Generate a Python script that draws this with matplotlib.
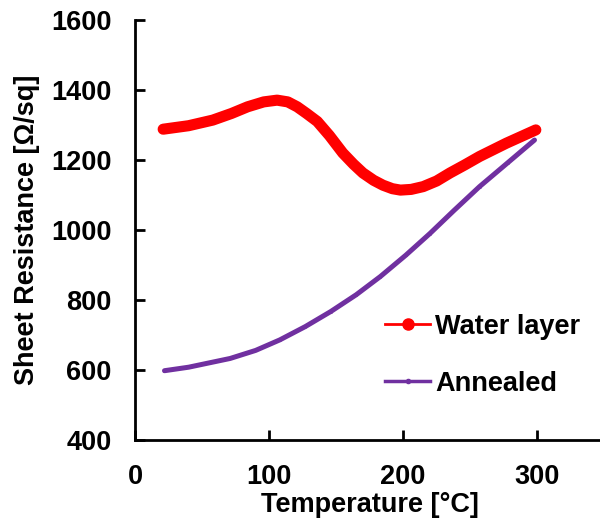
import matplotlib.pyplot as plt
from matplotlib.lines import Line2D

plt.rcParams['font.family'] = ['Liberation Sans', 'DejaVu Sans']
plt.rcParams['font.weight'] = 'bold'

# Water layer (red)
water_T = [21, 40, 58, 72, 84, 96, 106, 114, 121, 128, 136, 145, 155, 163, 170, 178,
           185, 192, 198, 206, 215, 225, 235, 246, 257, 267, 277, 288, 299]
water_R = [1288, 1298, 1314, 1333, 1352, 1366, 1371, 1366, 1352, 1333, 1310, 1270, 1220, 1188,
           1163, 1142, 1128, 1118, 1114, 1116, 1124, 1140, 1163, 1186, 1210, 1229, 1248, 1267, 1286]

# Annealed (purple)
ann_T = [22, 40, 71, 90, 108, 127, 146, 165, 183, 202, 220, 238, 257, 278, 298]
ann_R = [598, 608, 633, 656, 686, 724, 767, 815, 867, 928, 990, 1056, 1124, 1192, 1257]

xticks = [0, 100, 200, 300]
yticks = [400, 600, 800, 1000, 1200, 1400, 1600]

fig = plt.figure(figsize=(6, 5.25), dpi=100)
ax = fig.add_axes([0.225, 0.1619, 0.782, 0.8])

ax.plot(water_T, water_R, color='#ff0000', lw=8, solid_capstyle='round',
        solid_joinstyle='round', marker='o', ms=5, mew=0)
ax.plot(ann_T, ann_R, color='#7030a0', lw=3.6, solid_capstyle='round',
        solid_joinstyle='round', marker='o', ms=2, mew=0)

ax.set_xlim(0, 350)
ax.set_ylim(400, 1600)
ax.set_xticks(xticks)
ax.set_yticks(yticks)
for s in ['top', 'right']:
    ax.spines[s].set_visible(False)
for s in ['left', 'bottom']:
    ax.spines[s].set_linewidth(2)
ax.tick_params(direction='in', length=7, width=2, labelsize=19.5, pad=17)
ax.set_xlabel('Temperature [°C]', fontsize=19.5, fontweight='bold', labelpad=2)
ax.set_ylabel('Sheet Resistance [Ω/sq]', fontsize=19.5, fontweight='bold', labelpad=8)

handles = [Line2D([], [], color='#ff0000', lw=2, marker='o', ms=8),
           Line2D([], [], color='#7030a0', lw=2.5, marker='o', ms=3)]
ax.legend(handles, ['Water layer', 'Annealed'], loc='center left',
          bbox_to_anchor=(0.533, 0.202), frameon=False, fontsize=19.5,
          handlelength=1.66, handletextpad=0.18, labelspacing=1.15,
          borderpad=0, borderaxespad=0)

fig.savefig('out.png', dpi=100)
